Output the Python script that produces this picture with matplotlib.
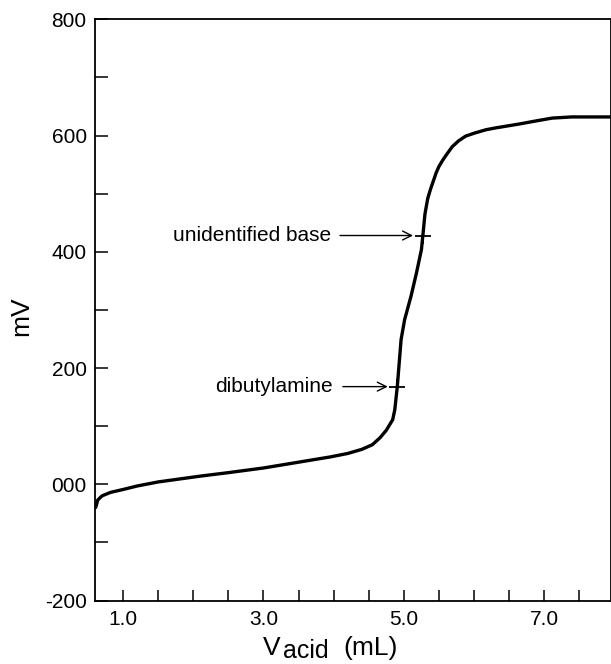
import matplotlib
matplotlib.use('Agg')
import matplotlib.pyplot as plt
from matplotlib.ticker import MultipleLocator, FixedLocator, FixedFormatter

plt.rcParams['font.family'] = ['Liberation Sans', 'DejaVu Sans']

# titration curve (mL acid, mV)
vol = [0.61, 0.64, 0.70, 0.82, 1.0, 1.2, 1.5, 1.8, 2.1, 2.5, 3.0, 3.5, 3.95,
       4.2, 4.4, 4.55, 4.66, 4.75, 4.84, 4.87, 4.906, 4.96, 5.01, 5.10, 5.18,
       5.25, 5.27, 5.30, 5.34, 5.38, 5.42, 5.46, 5.50, 5.55, 5.60, 5.69, 5.78,
       5.88, 6.0, 6.17, 6.3, 6.50, 6.65, 6.83, 6.97, 7.11, 7.25, 7.39, 7.95]
mv = [-40, -27, -20, -14, -9, -3, 4, 9, 14, 20, 28, 38, 47,
      53, 60, 68, 80, 93, 111, 128, 168, 249, 283, 323, 364,
      404, 428, 465, 492, 508, 522, 536, 547, 557, 566, 581, 591,
      599, 604, 610, 613, 617, 620, 624, 627, 630, 631, 632, 632]

# equivalence points marked on the curve
eq_names = ['dibutylamine', 'unidentified base']
eq_vol = [4.90, 5.27]
eq_mv = [168, 428]
label_vol = [3.99, 3.97]
arrow_tail = [4.13, 4.09]
arrow_head = [4.77, 5.13]

xtick_labels = ['1.0', '3.0', '5.0', '7.0']
ytick_vals = [-200, 0, 200, 400, 600, 800]
ytick_labels = ['-200', '000', '200', '400', '600', '800']

fig = plt.figure(figsize=(6.11, 6.64), dpi=100)
W, H = 611, 664
ax = fig.add_axes([95 / W, (H - 600.5) / H, (W - 95) / W, (600.5 - 19.3) / H])

ax.plot(vol, mv, color='black', lw=2.4, solid_capstyle='round', solid_joinstyle='round')

for name, xv, yv, lx, t0, t1 in zip(eq_names, eq_vol, eq_mv, label_vol, arrow_tail, arrow_head):
    ax.plot([xv], [yv], marker='+', ms=12, mew=1.3, color='black')
    ax.text(lx, yv, name, ha='right', va='center', fontsize=15)
    ax.annotate('', xy=(t1, yv), xytext=(t0, yv),
                arrowprops=dict(arrowstyle='->', lw=1.0, color='black',
                                mutation_scale=16, shrinkA=0, shrinkB=0))

ax.set_xlim(0.6, 7.95)
ax.set_ylim(-200, 800)

ax.xaxis.set_major_locator(FixedLocator([1.0, 3.0, 5.0, 7.0]))
ax.xaxis.set_major_formatter(FixedFormatter(xtick_labels))
ax.xaxis.set_minor_locator(MultipleLocator(0.5))
ax.yaxis.set_major_locator(FixedLocator(ytick_vals))
ax.yaxis.set_major_formatter(FixedFormatter(ytick_labels))
ax.yaxis.set_minor_locator(MultipleLocator(100))

ax.tick_params(axis='x', which='both', direction='in', length=8, width=1.1,
               labelsize=15, pad=7, top=False)
ax.tick_params(axis='y', which='both', direction='in', length=9, width=1.1,
               labelsize=15, pad=6, right=False)

for s in ax.spines.values():
    s.set_linewidth(1.3)

ax.set_ylabel('mV', fontsize=19)
ax.yaxis.set_label_coords(-0.12, 0.49)

# x label with the subscript at full size, as in the original
fig.text(263 / W, (H - 655) / H, 'V', fontsize=19, ha='left', va='baseline')
fig.text(283 / W, (H - 658) / H, 'acid', fontsize=18, ha='left', va='baseline')
fig.text(343 / W, (H - 655) / H, '(mL)', fontsize=19, ha='left', va='baseline')

fig.savefig('out.png', dpi=100)
